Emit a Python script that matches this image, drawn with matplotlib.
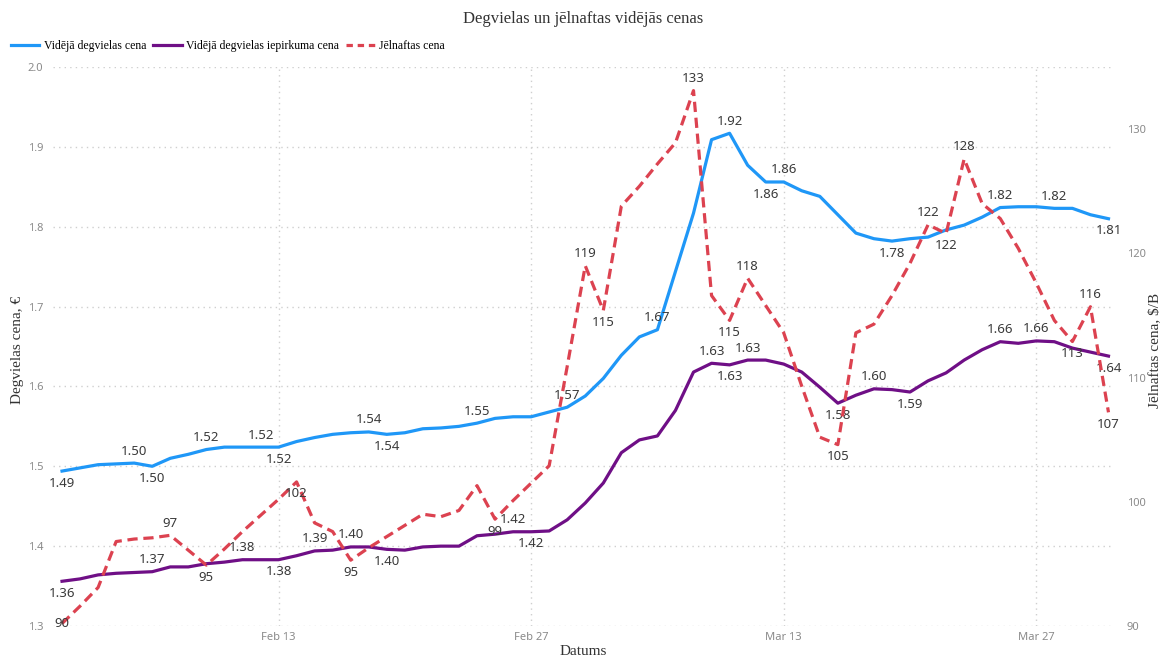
import matplotlib
matplotlib.use("Agg")
import matplotlib.pyplot as plt
import matplotlib.dates as mdates
from matplotlib.lines import Line2D
import pandas as pd

# daily values, 1 Feb - 31 Mar 2022
dates = pd.date_range("2022-02-01", "2022-03-31", freq="D")

avg_fuel = [1.494, 1.498, 1.502, 1.503, 1.504, 1.500, 1.510, 1.515, 1.521, 1.524,
            1.524, 1.524, 1.524, 1.531, 1.536, 1.540, 1.542, 1.543, 1.540, 1.542,
            1.547, 1.548, 1.550, 1.554, 1.560, 1.562, 1.562, 1.568, 1.574, 1.588,
            1.610, 1.639, 1.662, 1.671, 1.744, 1.817, 1.909, 1.917, 1.877, 1.856,
            1.856, 1.845, 1.838, 1.815, 1.792, 1.785, 1.782, 1.785, 1.787, 1.796,
            1.802, 1.812, 1.824, 1.825, 1.825, 1.823, 1.823, 1.815, 1.810]

purchase_fuel = [1.356, 1.359, 1.364, 1.366, 1.367, 1.368, 1.374, 1.374, 1.378, 1.380,
                 1.383, 1.383, 1.383, 1.388, 1.394, 1.395, 1.399, 1.399, 1.396, 1.395,
                 1.399, 1.400, 1.400, 1.413, 1.415, 1.418, 1.418, 1.419, 1.433, 1.454,
                 1.479, 1.517, 1.533, 1.538, 1.570, 1.618, 1.629, 1.627, 1.633, 1.633,
                 1.628, 1.618, 1.599, 1.579, 1.589, 1.597, 1.596, 1.593, 1.607, 1.617,
                 1.633, 1.646, 1.656, 1.654, 1.657, 1.656, 1.648, 1.643, 1.638]

crude = [90.2, 91.6, 93.1, 96.8, 97.0, 97.1, 97.3, 96.1, 94.9, 96.2,
         97.6, 98.9, 100.2, 101.6, 98.3, 97.6, 95.3, 96.3, 97.2, 98.1,
         99.0, 98.8, 99.3, 101.3, 98.6, 100.1, 101.5, 102.9, 110.9, 119.0,
         115.4, 123.8, 125.4, 127.2, 128.9, 133.1, 116.6, 114.6, 118.0, 115.8,
         113.6, 109.3, 105.2, 104.6, 113.6, 114.3, 116.6, 119.2, 122.3, 121.6,
         127.6, 124.0, 122.8, 120.4, 117.6, 114.6, 112.9, 115.7, 107.2]

# which points carry a data label: index -> 'a' above / 'b' below / 'c' on point
fuel_labels = {0: 'b', 4: 'a', 5: 'b', 8: 'a', 11: 'a', 12: 'b', 17: 'a', 18: 'b',
               23: 'a', 28: 'a', 33: 'a', 37: 'a', 39: 'b', 40: 'a', 46: 'b',
               52: 'a', 55: 'a', 58: 'b'}
purchase_labels = {0: 'b', 5: 'a', 10: 'a', 12: 'b', 14: 'a', 16: 'a', 18: 'b',
                   25: 'a', 26: 'b', 36: 'a', 37: 'b', 38: 'a', 43: 'b', 45: 'a',
                   47: 'b', 52: 'a', 54: 'a', 58: 'b'}
crude_labels = {0: 'c', 6: 'a', 8: 'b', 13: 'b', 16: 'b', 24: 'b', 29: 'a', 30: 'b',
                35: 'a', 37: 'b', 38: 'a', 43: 'b', 48: 'a', 49: 'b', 50: 'a',
                56: 'b', 57: 'a', 58: 'b'}

c_blue = '#1f97f7'
c_purple = '#6f0f86'
c_red = '#dc4250'
serif = 'Liberation Serif'
sans = 'Noto Sans'

fig = plt.figure(figsize=(11.63, 6.57), dpi=100)
ax = fig.add_axes([53/1163, 1-626/657, (1113-53)/1163, (626-67)/657])
ax2 = ax.twinx()

ax.plot(dates, avg_fuel, color=c_blue, lw=2.3, solid_joinstyle='round')
ax.plot(dates, purchase_fuel, color=c_purple, lw=2.3, solid_joinstyle='round')
ax2.plot(dates, crude, color=c_red, lw=2.3, linestyle=(0, (3.2, 1.8)))

def put_labels(axis, values, where, fmt):
    for i, pos in where.items():
        if pos == 'a':
            off, va = 4, 'bottom'
        elif pos == 'b':
            off, va = -4, 'top'
        else:
            off, va = 0, 'center'
        axis.annotate(fmt.format(values[i]), (dates[i], values[i]),
                      xytext=(0, off), textcoords='offset points',
                      ha='center', va=va, fontsize=9.5, color='#3a3a3a',
                      fontfamily=sans)

put_labels(ax, avg_fuel, fuel_labels, '{:.2f}')
put_labels(ax, purchase_fuel, purchase_labels, '{:.2f}')
put_labels(ax2, crude, crude_labels, '{:.0f}')

ax.set_ylim(1.3, 2.0)
ax2.set_ylim(90, 135)
ax.set_xlim(dates[0] - pd.Timedelta(hours=12), dates[-1] + pd.Timedelta(hours=6))
ax.set_yticks([1.3, 1.4, 1.5, 1.6, 1.7, 1.8, 1.9, 2.0])
ax2.set_yticks([90, 100, 110, 120, 130])
ax.xaxis.set_major_locator(mdates.DayLocator(bymonthday=[13, 27]))
ax.xaxis.set_major_formatter(mdates.DateFormatter('%b %d'))

ax.grid(True, color='#cfcfcf', lw=1, linestyle=(0, (1, 3)))
for a in (ax, ax2):
    for s in a.spines.values():
        s.set_visible(False)
    a.tick_params(length=0, labelsize=8, labelcolor='#8a8a8a')
    for lab in a.get_xticklabels() + a.get_yticklabels():
        lab.set_fontfamily(sans)
ax.tick_params(axis='y', pad=7)
ax.tick_params(axis='x', pad=4)
ax2.tick_params(axis='y', pad=10)

fig.text(583/1163, 1-19/657, 'Degvielas un jēlnaftas vidējās cenas', ha='center',
         va='center', fontsize=12, fontfamily=serif, color='#333333')
fig.text(18/1163, 1-350/657, 'Degvielas cena, €', rotation=90, ha='center',
         va='center', fontsize=11, fontfamily=serif, color='#333333')
fig.text(1155/1163, 1-350/657, 'Jēlnaftas cena, $/B', rotation=90, ha='center',
         va='center', fontsize=11, fontfamily=serif, color='#333333')
fig.text(583/1163, 1-655/657, 'Datums', ha='center', va='baseline',
         fontsize=11, fontfamily=serif, color='#333333')

handles = [Line2D([], [], color=c_blue, lw=2.3),
           Line2D([], [], color=c_purple, lw=2.3),
           Line2D([], [], color=c_red, lw=2.3, linestyle=(0, (2, 1.5)))]
fig.legend(handles, ['Vidējā degvielas cena', 'Vidējā degvielas iepirkuma cena',
                     'Jēlnaftas cena'],
           loc='center left', bbox_to_anchor=(0/1163, 1-46/657), ncol=3,
           frameon=False, prop={'family': serif, 'size': 8.5},
           handlelength=2.4, handletextpad=0.4, columnspacing=0.6)

fig.savefig('out.png', dpi=100)
